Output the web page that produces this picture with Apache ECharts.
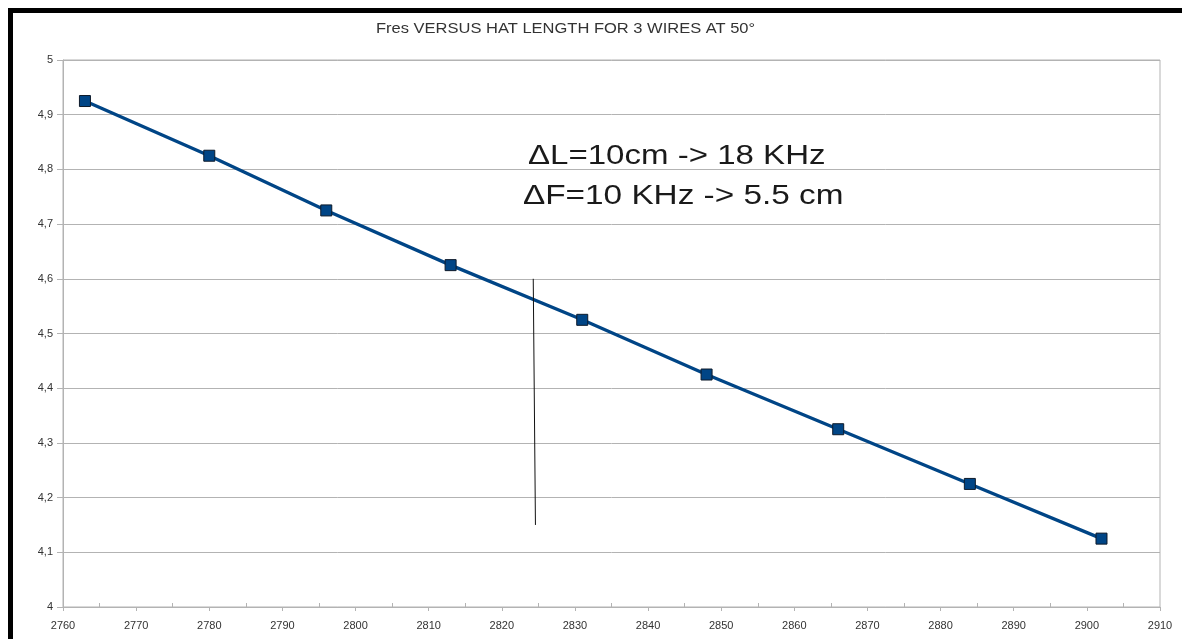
<!DOCTYPE html>
<html>
<head>
<meta charset="utf-8">
<script src="https://cdn.jsdelivr.net/npm/echarts@6/dist/echarts.min.js"></script>
<style>
  html, body { margin: 0; padding: 0; background: #fff; }
  #main { width: 1182px; height: 639px; }
</style>
</head>
<body>
<div id="main"></div>
<script>
var chartDom = document.getElementById('main');
var myChart = echarts.init(chartDom);

// hat length (mm) vs resonance frequency (MHz)
const hatLength = [2763, 2780, 2796, 2813, 2831, 2848, 2866, 2884, 2902];
const fres = [4.925, 4.825, 4.725, 4.625, 4.525, 4.425, 4.325, 4.225, 4.125];

// hand drawn marker line
const markX = [2824.3, 2824.6];
const markY = [4.6, 4.15];

const xTicks = [2760, 2770, 2780, 2790, 2800, 2810, 2820, 2830, 2840, 2850, 2860, 2870, 2880, 2890, 2900, 2910];
const yTicks = [4, 4.1, 4.2, 4.3, 4.4, 4.5, 4.6, 4.7, 4.8, 4.9, 5];

const titleText = 'Fres VERSUS HAT LENGTH FOR 3 WIRES AT 50°';
const noteLines = ['ΔL=10cm -> 18 KHz', 'ΔF=10 KHz -> 5.5 cm'];

const gridColor = '#b3b3b3';
const labelStyle = { color: '#333', fontSize: 11, fontFamily: 'Liberation Sans' };

function commaFmt(v) {
  return String(Math.round(v * 10) / 10).replace('.', ',');
}

const minorTicks = xTicks.slice(0, -1).map(v => v + 5);

var option = {
  animation: false,
  backgroundColor: '#fff',
  grid: {
    left: 63, top: 60, right: 22, bottom: 32,
    show: true, borderColor: gridColor, borderWidth: 1
  },
  xAxis: [
    {
      type: 'value',
      min: xTicks[0],
      max: xTicks[xTicks.length - 1],
      interval: 10,
      axisLine: { show: true, lineStyle: { color: gridColor } },
      axisTick: { show: true, inside: false, length: 4, lineStyle: { color: gridColor } },
      axisLabel: Object.assign({ margin: 13, formatter: v => String(v) }, labelStyle),
      splitLine: { show: false }
    },
    {
      type: 'value',
      position: 'bottom',
      min: xTicks[0],
      max: xTicks[xTicks.length - 1],
      interval: 5,
      axisLine: { show: false },
      axisTick: { show: true, inside: true, length: 4, customValues: minorTicks, lineStyle: { color: gridColor } },
      axisLabel: { show: false },
      splitLine: { show: false }
    }
  ],
  yAxis: {
    type: 'value',
    min: yTicks[0],
    max: yTicks[yTicks.length - 1],
    interval: 0.1,
    axisLine: { show: true, lineStyle: { color: gridColor } },
    axisTick: { show: true, length: 6, lineStyle: { color: gridColor } },
    axisLabel: Object.assign({ margin: 10, formatter: commaFmt }, labelStyle),
    splitLine: { show: true, lineStyle: { color: gridColor, width: 1 } }
  },
  series: [
    {
      type: 'line',
      data: hatLength.map((x, i) => [x, fres[i]]),
      lineStyle: { color: '#004586', width: 3.3 },
      symbol: 'rect',
      symbolSize: 11,
      itemStyle: { color: '#004586', borderColor: '#0d1a2a', borderWidth: 1 },
      z: 3
    },
    {
      type: 'line',
      data: markX.map((x, i) => [x, markY[i]]),
      symbol: 'none',
      lineStyle: { color: '#111', width: 1 },
      z: 4
    }
  ],
  graphic: [
    { type: 'rect', shape: { x: 8, y: 8, width: 1174, height: 5 }, style: { fill: '#000' } },
    { type: 'rect', shape: { x: 8, y: 8, width: 5, height: 631 }, style: { fill: '#000' } },
    {
      type: 'text', x: 376, y: 21, scaleX: 1.1,
      style: { text: titleText, fontSize: 15, fill: '#333', fontFamily: 'Liberation Sans' }
    },
    {
      type: 'text', x: 528, y: 142, scaleX: 1.18,
      style: { text: noteLines[0], fontSize: 28, fill: '#1a1a1a', fontFamily: 'Liberation Sans' }
    },
    {
      type: 'text', x: 523, y: 182, scaleX: 1.19,
      style: { text: noteLines[1], fontSize: 28, fill: '#1a1a1a', fontFamily: 'Liberation Sans' }
    }
  ]
};

option && myChart.setOption(option);
</script>
</body>
</html>
